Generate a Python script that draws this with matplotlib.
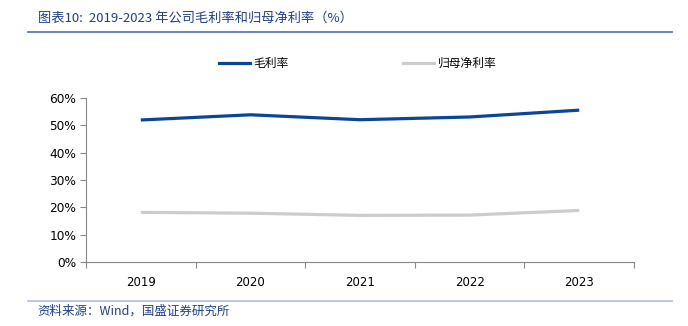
import matplotlib.pyplot as plt
from matplotlib.lines import Line2D

plt.rcParams['font.family'] = ['Noto Sans CJK SC', 'DejaVu Sans']

years = ['2019', '2020', '2021', '2022', '2023']
gross_margin = [52.0, 53.9, 52.1, 53.1, 55.6]
net_margin = [18.2, 17.9, 17.1, 17.2, 18.9]
y_ticks = [0, 10, 20, 30, 40, 50, 60]

fig = plt.figure(figsize=(6.88, 3.26), dpi=100)
ax = fig.add_axes([0.125, 0.196, 0.7965, 0.503])

x = range(len(years))
ax.plot(x, gross_margin, color='#0a4599', linewidth=2.3, solid_capstyle='butt', label='毛利率')
ax.plot(x, net_margin, color='#cccccc', linewidth=2.3, solid_capstyle='butt', label='归母净利率')

ax.set_xlim(-0.5, len(years) - 0.5)
ax.set_ylim(0, 60)
ax.set_yticks(y_ticks)
ax.set_yticklabels([f'{v}%' for v in y_ticks], fontsize=8.7, family='DejaVu Sans')

# 类别轴：刻度在类别之间
ax.set_xticks([i - 0.5 for i in range(len(years) + 1)])
ax.set_xticklabels([])
ax.set_xticks(list(x), minor=True)
ax.set_xticklabels(years, minor=True, fontsize=8.5, family='DejaVu Sans')
ax.tick_params(axis='x', which='minor', length=0, pad=10)
ax.tick_params(axis='x', which='major', length=4, color='#888888', direction='out')
ax.tick_params(axis='y', length=4, color='#888888', direction='out', pad=3)

for s in ['top', 'right']:
    ax.spines[s].set_visible(False)
for s in ['left', 'bottom']:
    ax.spines[s].set_color('#888888')
    ax.spines[s].set_linewidth(0.8)

handles = [Line2D([], [], color='#0a4599', linewidth=2.3),
           Line2D([], [], color='#cccccc', linewidth=2.3)]
fig.legend(handles, ['毛利率', '归母净利率'], loc='center', bbox_to_anchor=(0.52, 0.805),
           ncol=2, frameon=False, fontsize=8.5, handlelength=2.6, handletextpad=0.3,
           columnspacing=9.7)

# 标题和来源
fig.text(0.055, 0.945, '图表10:  2019-2023 年公司毛利率和归母净利率（%）', fontsize=9.5,
         color='#1f3f85', style='italic', va='center', ha='left')
fig.add_artist(Line2D([0.041, 0.977], [0.903, 0.903], color='#4a70b0', linewidth=1.2))
fig.add_artist(Line2D([0.041, 0.977], [0.077, 0.077], color='#a8bde0', linewidth=1.2))
fig.text(0.055, 0.045, '资料来源：Wind，国盛证券研究所', fontsize=9,
         color='#1f3f85', style='italic', va='center', ha='left')

fig.savefig('out.png', dpi=100)
